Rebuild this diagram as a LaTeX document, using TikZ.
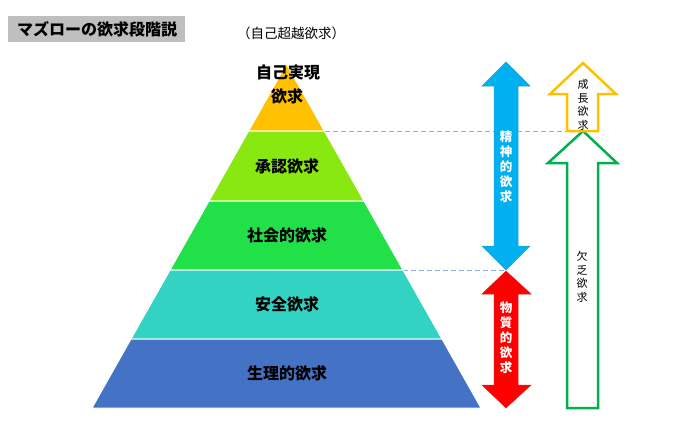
\documentclass[tikz,border=0pt]{standalone}
\usepackage{fontspec}
\newfontfamily\cjk{Noto Sans CJK JP}
\definecolor{cyel}{HTML}{FFC000}
\definecolor{cgrn1}{HTML}{88E810}
\definecolor{cgrn2}{HTML}{22E048}
\definecolor{cteal}{HTML}{33D3C4}
\definecolor{cblue}{HTML}{4472C4}
\definecolor{carrb}{HTML}{00B0F0}
\definecolor{carrr}{HTML}{FF0000}
\definecolor{cgreen}{HTML}{00B050}
\definecolor{cdash}{HTML}{8FAADC}
\begin{document}
\begin{tikzpicture}[x=1pt,y=-1pt,
  layer/.style={draw=white,line width=1pt},
  lvl/.style={font=\cjk\bfseries\fontsize{16}{19}\selectfont,text=black},
  vtxt/.style={align=center,inner sep=0pt},
  dashln/.style={draw=cdash,dash pattern=on 5pt off 3pt,line width=0.8pt},
  outarrow/.style={fill=white,line width=2.5pt,line join=miter}]
\useasboundingbox (0,0) rectangle (700,424);
% title
\fill[gray!50] (8,16) rectangle (185,42);
\node[font=\cjk\bfseries\fontsize{16}{19}\selectfont] (title) at (97,29) {マズローの欲求段階説};
\node[font=\cjk\fontsize{13.5}{16}\selectfont] (trans) at (291,33) {（自己超越欲求）};
% coordinates for dashed lines
\coordinate (d1a) at (325,131);
\coordinate (d1b) at (577,131);
\coordinate (d2a) at (403,270);
\coordinate (d2b) at (506,270);
\draw[dashln] (d1a) -- (d1b);
\draw[dashln] (d2a) -- (d2b);
% pyramid
\fill[cyel,layer] (286.5,64) -- (324.4,131) -- (248.6,131) -- cycle;
\fill[cgrn1,layer] (248.6,131) -- (324.4,131) -- (364,201) -- (209,201) -- cycle;
\fill[cgrn2,layer] (209,201) -- (364,201) -- (403,270) -- (170,270) -- cycle;
\fill[cteal,layer] (170,270) -- (403,270) -- (442,339) -- (131,339) -- cycle;
\fill[cblue,layer] (131,339) -- (442,339) -- (481,408) -- (92,408) -- cycle;
\node[lvl] (l5a) at (288,72) {自己実現};
\node[lvl] (l5b) at (287,96) {欲求};
\node[lvl] (l4) at (287,166) {承認欲求};
\node[lvl] (l3) at (287,235) {社会的欲求};
\node[lvl] (l2) at (287,304) {安全欲求};
\node[lvl] (l1) at (287,373) {生理的欲求};
% blue double arrow
\filldraw[fill=carrb,draw=carrb!70!gray,line width=0.5pt]
  (506,62) -- (530,86) -- (518,86) -- (518,246) -- (530,246) -- (506,270)
  -- (482,246) -- (494,246) -- (494,86) -- (482,86) -- cycle;
\node[vtxt,font=\cjk\bfseries\fontsize{12.5}{15}\selectfont,text=white] (spirit) at (506,167) {精\\神\\的\\欲\\求};
% red double arrow
\filldraw[fill=carrr,draw=carrr!70!gray,line width=0.5pt]
  (506,271) -- (531,294) -- (518,294) -- (518,385) -- (531,385) -- (506,408)
  -- (482,385) -- (494,385) -- (494,294) -- (482,294) -- cycle;
\node[vtxt,font=\cjk\bfseries\fontsize{12.5}{15}\selectfont,text=white] (material) at (506,338) {物\\質\\的\\欲\\求};
% green outline arrow
\draw[outarrow,draw=cgreen]
  (583,131) -- (617,163) -- (598,163) -- (598,408) -- (567,408) -- (567,163) -- (548,163) -- cycle;
\node[vtxt,font=\cjk\fontsize{11}{13.5}\selectfont] (lack) at (582,277) {欠\\乏\\欲\\求};
% yellow outline arrow
\draw[outarrow,draw=cyel]
  (583,63) -- (616,94) -- (598,94) -- (598,131) -- (567,131) -- (567,94) -- (550,94) -- cycle;
\node[vtxt,font=\cjk\fontsize{11}{13.5}\selectfont] (growth) at (583,105) {成\\長\\欲\\求};
\end{tikzpicture}
\end{document}
